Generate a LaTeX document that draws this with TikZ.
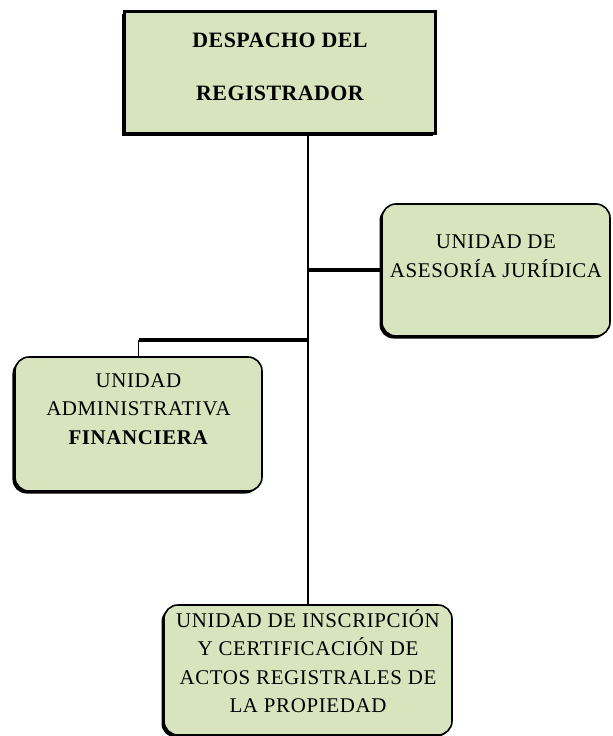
\documentclass[tikz,border=0pt]{standalone}
\usepackage{fontspec}
\setmainfont{Liberation Serif}
\usepackage{xcolor}
\usepackage{tikz}
\usetikzlibrary{positioning, shadows}

\definecolor{boxgreen}{RGB}{215,228,189}

\begin{document}
\begin{tikzpicture}[
  x=1bp, y=-1bp,
  block/.style={draw, rectangle, rounded corners=14bp, fill=boxgreen, line width=1.6bp, align=center,
    font=\fontsize{21}{28.5}\selectfont\addfontfeature{LetterSpace=3},
    drop shadow={shadow xshift=-2.5bp, shadow yshift=-2.5bp, fill=black, opacity=1}},
  headblock/.style={block, sharp corners, line width=3bp,
    font=\fontsize{22}{53}\selectfont\bfseries\addfontfeature{LetterSpace=2}},
  link/.style={line width=1.5bp},
  boldlink/.style={line width=3.5bp}
]
\useasboundingbox (0,0) rectangle (613,736);

\node[headblock, minimum width=311bp, minimum height=122bp, text depth=12bp] (desp) at (280,72.5) {DESPACHO DEL\\REGISTRADOR};
\node[block, minimum width=228bp, minimum height=132bp, text depth=28bp] (juri) at (496,270) {UNIDAD DE\\ASESORÍA JURÍDICA};
\node[block, minimum width=247bp, minimum height=134bp, text depth=30bp] (fin) at (138.5,424) {UNIDAD\\ADMINISTRATIVA\\\textbf{FINANCIERA}};
\node[block, minimum width=288bp, minimum height=130bp, text depth=18bp] (insc) at (308,670) {UNIDAD DE INSCRIPCIÓN\\Y CERTIFICACIÓN DE\\ACTOS REGISTRALES DE\\LA PROPIEDAD};

\coordinate (jright) at (juri.west -| insc.north);
\coordinate (jleft) at (308,340);

\draw[link] (desp.south -| insc.north) -- (insc.north);
\draw[boldlink] (jright) -- (juri.west);
\draw[link] (fin.north) -- (fin.north |- jleft);
\draw[boldlink] (fin.north |- jleft) -- (jleft);
\end{tikzpicture}
\end{document}
